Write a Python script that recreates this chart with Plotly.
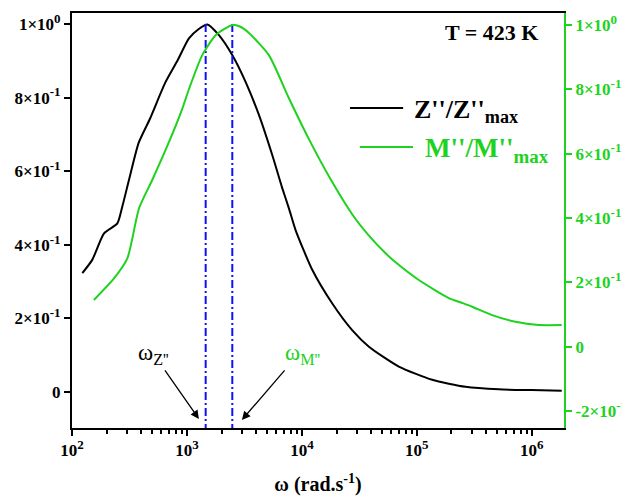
import plotly.graph_objects as go

# ---------------- data ----------------
# Z''/Z''max  (left axis)
omega_Z = [123, 150, 190, 248, 274, 313, 380, 479, 646, 832, 1040, 1259, 1503,
           1897, 2477, 3236, 4227, 5521, 6745, 7709, 8810, 12300, 18320, 27350,
           38280, 69660, 135800, 264900, 516400, 1000000, 1820000]
Z_norm = [0.323, 0.359, 0.431, 0.458, 0.504, 0.576, 0.677, 0.744, 0.840, 0.902,
          0.961, 0.986, 0.999, 0.970, 0.916, 0.843, 0.753, 0.644, 0.554, 0.499,
          0.440, 0.332, 0.241, 0.168, 0.123, 0.069, 0.033, 0.014, 0.007, 0.005,
          0.0035]

# M''/M''max  (right axis)
omega_M = [155, 232, 303, 383, 499, 692, 912, 1040, 1358, 1778, 2477, 2884,
           3459, 5164, 7709, 11510, 17780, 27540, 38280, 53460, 65310, 104000,
           189700, 251200, 302700, 451900, 721100, 1148000, 1820000]
M_norm = [0.145, 0.212, 0.274, 0.430, 0.518, 0.633, 0.740, 0.800, 0.906, 0.968,
          1.000, 0.995, 0.975, 0.906, 0.772, 0.645, 0.520, 0.410, 0.345, 0.290,
          0.262, 0.207, 0.151, 0.135, 0.124, 0.098, 0.077, 0.067, 0.067]

# relaxation peak frequencies (blue dash-dot markers)
omega_peak_Z = 1455
omega_peak_M = 2480
peak_line_y = [1.0, -0.12]

# tick labels
SUP = '<sup><span style="font-size:13px">{}</span></sup>'
x_tickvals = [1e2, 1e3, 1e4, 1e5, 1e6]
x_ticktext = ["10" + SUP.format(e) for e in ["2", "3", "4", "5", "6"]]
yl_tickvals = [0, 0.2, 0.4, 0.6, 0.8, 1.0]
yl_ticktext = ["0"] + [m + "×10" + SUP.format(e) for m, e in
                       [("2", "-1"), ("4", "-1"), ("6", "-1"), ("8", "-1"), ("1", "0")]]
yr_tickvals = [-0.2, 0, 0.2, 0.4, 0.6, 0.8, 1.0]
yr_ticktext = ["-2×10" + SUP.format("-1"), "0"] + [m + "×10" + SUP.format(e) for m, e in
                       [("2", "-1"), ("4", "-1"), ("6", "-1"), ("8", "-1"), ("1", "0")]]

# ---------------- style ----------------
SERIF = "Liberation Serif"
GREEN = "#1ed21e"
BLUE = "#1010ff"

fig = go.Figure()

fig.add_trace(go.Scatter(x=omega_Z, y=Z_norm, mode="lines", yaxis="y",
                         line=dict(color="black", width=2, shape="spline", smoothing=0.6),
                         showlegend=False))
fig.add_trace(go.Scatter(x=omega_M, y=M_norm, mode="lines", yaxis="y2",
                         line=dict(color=GREEN, width=2, shape="spline", smoothing=0.6),
                         showlegend=False))
for w in (omega_peak_Z, omega_peak_M):
    fig.add_trace(go.Scatter(x=[w, w], y=peak_line_y, mode="lines", yaxis="y",
                             line=dict(color=BLUE, width=2, dash="8px,3px,2px,3px"),
                             showlegend=False))

tickfont = dict(family=SERIF, size=17, color="black", weight="bold")

# the page body adds an 8px offset, so the figure is sized to fill the window
fig.update_layout(
    width=622, height=490,
    margin=dict(l=64, r=66, t=5, b=70),
    paper_bgcolor="white", plot_bgcolor="white",
    showlegend=False,
    xaxis=dict(type="log", range=[2, 6.28], automargin=False,
               showline=True, linecolor="black", linewidth=2, mirror=True,
               ticks="outside", ticklen=6, tickwidth=2, tickcolor="black",
               tickvals=x_tickvals, ticktext=x_ticktext, tickfont=tickfont,
               minor=dict(ticks="outside", ticklen=4, tickwidth=1.5,
                          tickcolor="black", dtick="D1", showgrid=False),
               showgrid=False, zeroline=False,
               title=dict(text="ω (rad.s<sup>-1</sup>)", standoff=18,
                          font=dict(family=SERIF, size=20, color="black", weight="bold"))),
    yaxis=dict(range=[-0.098, 1.03], automargin=False,
               showline=True, linecolor="black", linewidth=2,
               ticks="outside", ticklen=6, tickwidth=2, tickcolor="black",
               tickvals=yl_tickvals, ticktext=yl_ticktext, tickfont=tickfont,
               showgrid=False, zeroline=False),
    yaxis2=dict(range=[-0.253, 1.037], overlaying="y", side="right", automargin=False,
                showline=True, linecolor=GREEN, linewidth=2,
                ticks="outside", ticklen=6, tickwidth=2, tickcolor=GREEN,
                tickvals=yr_tickvals, ticktext=yr_ticktext,
                tickfont=dict(family=SERIF, size=17, color=GREEN, weight="bold"),
                showgrid=False, zeroline=False),
)

# legend drawn as line samples + labels
fig.add_shape(type="line", xref="paper", yref="paper", x0=0.565, x1=0.673,
              y0=0.771, y1=0.771, line=dict(color="black", width=2))
fig.add_shape(type="line", xref="paper", yref="paper", x0=0.585, x1=0.693,
              y0=0.677, y1=0.677, line=dict(color=GREEN, width=2))

annotations = [
    dict(text="T = 423 K", x=0.853, y=0.953, xref="paper", yref="paper",
         xanchor="center", yanchor="middle",
         showarrow=False, font=dict(family=SERIF, size=22, color="black", weight="bold")),
    dict(text="Z''/Z''<sub>max</sub>", x=0.691, y=0.763, xref="paper", yref="paper",
         xanchor="left", yanchor="middle", showarrow=False,
         font=dict(family=SERIF, size=26, color="black", weight="bold")),
    dict(text="M''/M''<sub>max</sub>", x=0.713, y=0.669, xref="paper", yref="paper",
         xanchor="left", yanchor="middle", showarrow=False,
         font=dict(family=SERIF, size=27, color=GREEN, weight="bold")),
    dict(text="ω<sub>Z''</sub>", x=0.166, y=0.178, xref="paper", yref="paper",
         xanchor="center", yanchor="middle",
         showarrow=False, font=dict(family=SERIF, size=23, color="black")),
    dict(text="ω<sub>M''</sub>", x=0.468, y=0.178, xref="paper", yref="paper",
         xanchor="center", yanchor="middle",
         showarrow=False, font=dict(family=SERIF, size=23, color=GREEN)),
    dict(text="", x=3.104, y=-0.0734, xref="x", yref="y", showarrow=True,
         ax=-35, ay=-50, arrowhead=2, arrowsize=1.3, arrowwidth=1.3, arrowcolor="black"),
    dict(text="", x=3.478, y=-0.076, xref="x", yref="y", showarrow=True,
         ax=44, ay=-51, arrowhead=2, arrowsize=1.3, arrowwidth=1.3, arrowcolor="black"),
]
fig.update_layout(annotations=annotations)

fig.write_html("out.html")
